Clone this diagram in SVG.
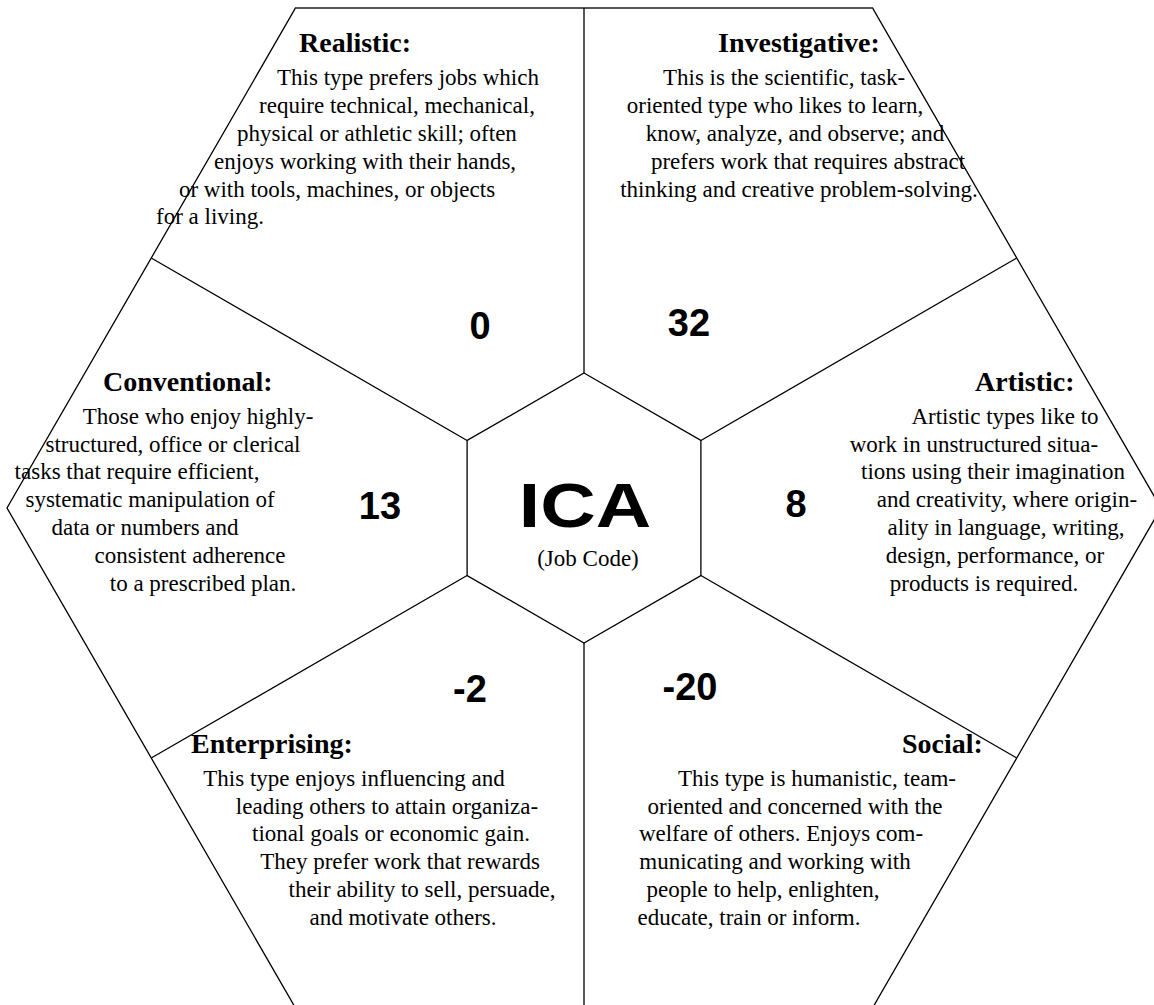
<svg xmlns="http://www.w3.org/2000/svg" width="1154" height="1005" viewBox="0 0 1154 1005">
<style>
.ln{fill:none;stroke:#000;stroke-width:1.3}
.hd{font-family:"Liberation Serif","Times New Roman",serif;font-weight:bold;font-size:28px;fill:#000}
.bd{font-family:"Liberation Serif","Times New Roman",serif;font-size:23px;fill:#000;text-anchor:middle}
.num{font-family:"Liberation Sans",Arial,sans-serif;font-weight:bold;font-size:38px;fill:#000;text-anchor:middle}
</style>
<rect width="1154" height="1005" fill="#fff"/>
<g id="frame">
<polygon class="ln" points="295.5,8 872.5,8 1161,508 872.5,1008 295.5,1008 7,508"/>
<line x1="295.5" y1="8" x2="872.5" y2="8" stroke="#555" stroke-width="2"/>
</g>
<g id="connectors">
<line class="ln" x1="584" y1="373" x2="584" y2="8"/>
<line class="ln" x1="584" y1="643" x2="584" y2="1008"/>
<line class="ln" x1="467.1" y1="440.5" x2="151.25" y2="258"/>
<line class="ln" x1="700.9" y1="440.5" x2="1016.75" y2="258"/>
<line class="ln" x1="467.1" y1="575.5" x2="151.25" y2="758"/>
<line class="ln" x1="700.9" y1="575.5" x2="1016.75" y2="758"/>
</g>
<g id="center">
<polygon class="ln" points="584,373 700.9,440.5 700.9,575.5 584,643 467.1,575.5 467.1,440.5"/>
<text transform="translate(585,527) scale(1.22,1)" text-anchor="middle" font-family="Liberation Sans,Arial,sans-serif" font-weight="bold" font-size="63">ICA</text>
<text x="588" y="566" class="bd" font-size="27">(Job Code)</text>
</g>
<g id="realistic">
<text x="299" y="52" class="hd">Realistic:</text>
<text x="408" y="85" class="bd">This type prefers jobs which</text>
<text x="397" y="113" class="bd">require technical, mechanical,</text>
<text x="377" y="141" class="bd">physical or athletic skill; often</text>
<text x="365" y="169" class="bd">enjoys working with their hands,</text>
<text x="337" y="197" class="bd">or with tools, machines, or objects</text>
<text x="210" y="224" class="bd">for a living.</text>
<text x="480" y="339" class="num">0</text>
</g>
<g id="investigative">
<text x="718" y="52" class="hd">Investigative:</text>
<text x="784" y="85" class="bd">This is the scientific, task-</text>
<text x="775" y="113" class="bd">oriented type who likes to learn,</text>
<text x="795" y="141" class="bd">know, analyze, and observe; and</text>
<text x="808" y="169" class="bd">prefers work that requires abstract</text>
<text x="799" y="197" class="bd">thinking and creative problem-solving.</text>
<text x="689" y="336" class="num">32</text>
</g>
<g id="conventional">
<text x="103" y="391" class="hd">Conventional:</text>
<text x="198" y="424" class="bd">Those who enjoy highly-</text>
<text x="173" y="452" class="bd">structured, office or clerical</text>
<text x="137" y="479" class="bd">tasks that require efficient,</text>
<text x="150" y="507" class="bd">systematic manipulation of</text>
<text x="145" y="535" class="bd">data or numbers and</text>
<text x="190" y="563" class="bd">consistent adherence</text>
<text x="203" y="591" class="bd">to a prescribed plan.</text>
<text x="380" y="519" class="num">13</text>
</g>
<g id="artistic">
<text x="975" y="391" class="hd">Artistic:</text>
<text x="1005" y="424" class="bd">Artistic types like to</text>
<text x="974" y="452" class="bd">work in unstructured situa-</text>
<text x="993" y="479" class="bd">tions using their imagination</text>
<text x="1007" y="507" class="bd">and creativity, where origin-</text>
<text x="1006" y="535" class="bd">ality in language, writing,</text>
<text x="995" y="563" class="bd">design, performance, or</text>
<text x="984" y="591" class="bd">products is required.</text>
<text x="796" y="517" class="num">8</text>
</g>
<g id="enterprising">
<text x="191" y="753" class="hd">Enterprising:</text>
<text x="354" y="786" class="bd">This type enjoys influencing and</text>
<text x="387" y="814" class="bd">leading others to attain organiza-</text>
<text x="391" y="841" class="bd">tional goals or economic gain.</text>
<text x="400" y="869" class="bd">They prefer work that rewards</text>
<text x="422" y="897" class="bd">their ability to sell, persuade,</text>
<text x="403" y="925" class="bd">and motivate others.</text>
<text x="470" y="702" class="num">-2</text>
</g>
<g id="social">
<text x="902" y="753" class="hd">Social:</text>
<text x="817" y="786" class="bd">This type is humanistic, team-</text>
<text x="795" y="814" class="bd">oriented and concerned with the</text>
<text x="781" y="841" class="bd">welfare of others. Enjoys com-</text>
<text x="775" y="869" class="bd">municating and working with</text>
<text x="763" y="897" class="bd">people to help, enlighten,</text>
<text x="749" y="925" class="bd">educate, train or inform.</text>
<text x="690" y="700" class="num">-20</text>
</g>
</svg>
